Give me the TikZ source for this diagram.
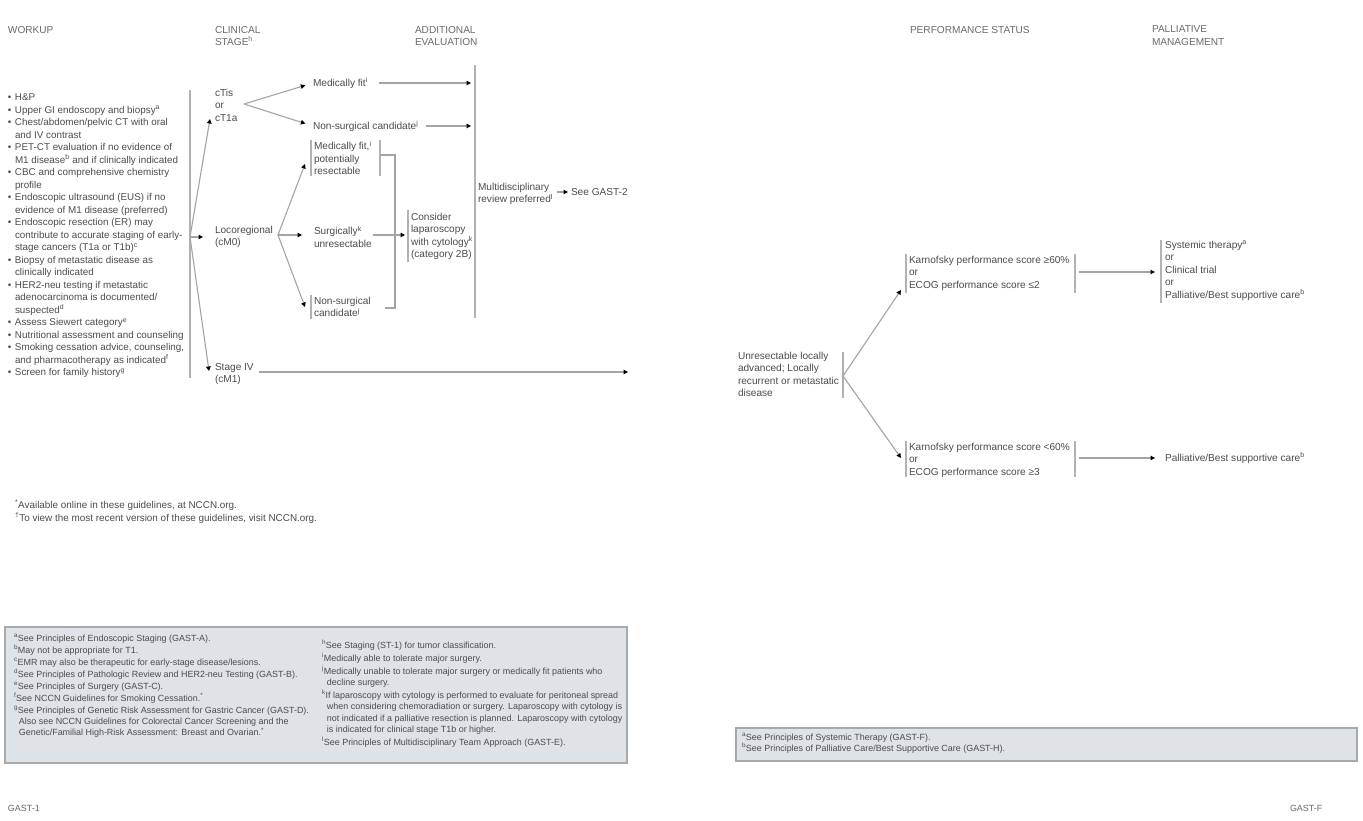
\documentclass[tikz,border=0pt]{standalone}
\usepackage{fontspec}
\setmainfont{Liberation Sans}
\usetikzlibrary{arrows.meta,calc}
\definecolor{txtc}{HTML}{4C4C4C}
\definecolor{hdrc}{HTML}{6A6A6A}
\definecolor{linec}{HTML}{A4A4A4}
\definecolor{barc}{HTML}{B2B2B2}
\definecolor{boxfill}{HTML}{DDE3E6}
\definecolor{boxline}{HTML}{A6AAAD}
\newcommand{\mainf}{\fontsize{10.1}{12.5}\selectfont}
\newcommand{\workf}{\fontsize{9.85}{12.5}\selectfont}
\newcommand{\notef}{\fontsize{8.95}{11.4}\selectfont}
\newcommand{\bult}{\makebox[7pt][l]{•}}
\newcommand{\indt}{\hspace*{7pt}}
\newcommand{\sps}[1]{\textsuperscript{#1}}
\begin{document}
\begin{tikzpicture}[x=1pt,y=-1pt,
  lbl/.style={font=\mainf, text=txtc, inner sep=0pt, outer sep=0pt, align=left},
  hdr/.style={lbl, text=hdrc},
  note/.style={lbl, font=\notef},
  gl/.style={draw=linec, line width=1.1pt},
  bar/.style={draw=barc, line width=1.6pt},
  arr/.style={gl, -{Triangle[length=4.5pt,width=4.5pt,color=black]}},
  fbox/.style={fill=boxfill, draw=boxline, line width=2pt}]
\useasboundingbox[fill=white] (0,0) rectangle (1363,821);

% ---------- headers ----------
\node[hdr, anchor=west] (hW) at (8,30) {WORKUP};
\node[hdr, anchor=north west] (hC) at (215,26) {CLINICAL\\STAGE\sps{h}};
\node[hdr, anchor=north west] (hA) at (415,26) {ADDITIONAL\\EVALUATION};
\node[hdr, anchor=west] (hP) at (910,30) {PERFORMANCE STATUS};
\node[hdr, anchor=north west] (hM) at (1152,26) {PALLIATIVE\\MANAGEMENT};

% ---------- workup ----------
\node[lbl, font=\workf, anchor=north west] (work) at (8,94) {%
\bult H\&P\\
\bult Upper GI endoscopy and biopsy\sps{a}\\
\bult Chest/abdomen/pelvic CT with oral\\
\indt and IV contrast\\
\bult PET-CT evaluation if no evidence of\\
\indt M1 disease\sps{b} and if clinically indicated\\
\bult CBC and comprehensive chemistry\\
\indt profile\\
\bult Endoscopic ultrasound (EUS) if no\\
\indt evidence of M1 disease (preferred)\\
\bult Endoscopic resection (ER) may\\
\indt contribute to accurate staging of early-\\
\indt stage cancers (T1a or T1b)\sps{c}\\
\bult Biopsy of metastatic disease as\\
\indt clinically indicated\\
\bult HER2-neu testing if metastatic\\
\indt adenocarcinoma is documented/\\
\indt suspected\sps{d}\\
\bult Assess Siewert category\sps{e}\\
\bult Nutritional assessment and counseling\\
\bult Smoking cessation advice, counseling,\\
\indt and pharmacotherapy as indicated\sps{f}\\
\bult Screen for family history\sps{g}};

\coordinate (wt) at (190,90);
\coordinate (wb) at (190,378);
\draw[bar] (wt) -- (wb);
\coordinate (o1) at (190,237);

% ---------- clinical stage ----------
\node[lbl, anchor=north west] (cT) at (215,89) {cTis\\or\\cT1a};
\node[lbl, anchor=north west] (loc) at (215,226) {Locoregional\\(cM0)};
\node[lbl, anchor=north west] (s4) at (215,363) {Stage IV\\(cM1)};
\coordinate (cTin) at (210,119);
\coordinate (s4in) at (209,371);
\draw[arr] (o1) -- (cTin);
\draw[arr, shorten >=12pt] (o1) -- (o1 -| loc.west);
\draw[arr] (o1) -- (s4in);

% cTis branch
\coordinate (o2) at (244,104);
\node[lbl, anchor=west] (mf1) at (313,83) {Medically fit\sps{i}};
\node[lbl, anchor=west] (ns1) at (313,126) {Non-surgical candidate\sps{j}};
\draw[arr, shorten >=8pt] (o2) -- (mf1.west);
\draw[arr, shorten >=8pt] (o2) -- (ns1.west);

% big vertical line (additional evaluation)
\coordinate (BB1) at (475,65);
\coordinate (BB2) at (475,318);
\draw[bar] (BB1) -- (BB2);
\draw[arr, shorten <=11pt, shorten >=4pt] (mf1.east) -- (mf1.east -| BB1);
\draw[arr, shorten <=8pt, shorten >=4pt] (ns1.east) -- (ns1.east -| BB1);

% locoregional branch
\coordinate (o3) at (278,235);
\node[lbl, anchor=north west] (mfr) at (314,141) {Medically fit,\sps{i}\\potentially\\resectable};
\node[lbl, anchor=north west] (su) at (314,226) {Surgically\sps{k}\\unresectable};
\node[lbl, anchor=north west] (ns2) at (314,297) {Non-surgical\\candidate\sps{j}};
\coordinate (mfrin) at (305,164);
\coordinate (suin) at (302,235);
\coordinate (ns2in) at (305,307);
\draw[arr] (o3) -- (mfrin);
\draw[arr] (o3) -- (suin);
\draw[arr] (o3) -- (ns2in);
\draw[bar] (311,140) -- (311,176);
\draw[bar] (380,140) -- (380,176);
\draw[bar] (311,295) -- (311,319);
% bracket
\coordinate (bk1) at (380,155);
\coordinate (bk2) at (395,155);
\coordinate (bk3) at (395,308);
\coordinate (bk4) at (385,308);
\draw[gl] (bk1) -- (bk2) -- (bk3) -- (bk4);

\node[lbl, anchor=north west] (lap) at (411,213) {Consider\\laparoscopy\\with cytology\sps{k}\\(category 2B)};
\draw[bar] (408,210) -- (408,262);
\coordinate (sustart) at (373,235);
\draw[arr, shorten >=6pt] (sustart) -- (sustart -| lap.west);

\node[lbl, anchor=north west] (mdr) at (478,183) {Multidisciplinary\\review preferred\sps{l}};
\node[lbl, anchor=west] (g2) at (571,192) {See GAST-2};
\coordinate (mdrout) at (557,192);
\draw[arr, shorten >=3pt] (mdrout) -- (g2.west);

% stage IV long arrow
\coordinate (s4end) at (628,372);
\draw[arr, shorten <=5pt] (s4.east |- s4end) -- (s4end);

% ---------- footnotes (left) ----------
\node[lbl, anchor=north west, font=\fontsize{9.9}{13}\selectfont] (avail) at (15,500)
 {\sps{*}Available online in these guidelines, at NCCN.org.\\
  \sps{†}To view the most recent version of these guidelines, visit NCCN.org.};

\path[fbox] (5,627) rectangle (627,763);
\node[note, anchor=north west] (fnL) at (14,634) {%
\sps{a}See Principles of Endoscopic Staging (GAST-A).\\[0.6pt]
\sps{b}May not be appropriate for T1.\\[0.6pt]
\sps{c}EMR may also be therapeutic for early-stage disease/lesions.\\[0.6pt]
\sps{d}See Principles of Pathologic Review and HER2-neu Testing (GAST-B).\\[0.6pt]
\sps{e}See Principles of Surgery (GAST-C).\\[0.6pt]
\sps{f}See NCCN Guidelines for Smoking Cessation.\sps{*}\\[0.6pt]
\sps{g}See Principles of Genetic Risk Assessment for Gastric Cancer (GAST-D).\\
\ \ Also see NCCN Guidelines for Colorectal Cancer Screening and the\\
\ \ Genetic/Familial High-Risk Assessment: Breast and Ovarian.\sps{*}};
\node[note, anchor=north west] (fnR) at (322,640) {%
\sps{h}See Staging (ST-1) for tumor classification.\\[1.5pt]
\sps{i}Medically able to tolerate major surgery.\\[1.5pt]
\sps{j}Medically unable to tolerate major surgery or medically fit patients who\\
\ \ decline surgery.\\[1.5pt]
\sps{k}If laparoscopy with cytology is performed to evaluate for peritoneal spread\\
\ \ when considering chemoradiation or surgery. Laparoscopy with cytology is\\
\ \ not indicated if a palliative resection is planned. Laparoscopy with cytology\\
\ \ is indicated for clinical stage T1b or higher.\\[1.5pt]
\sps{l}See Principles of Multidisciplinary Team Approach (GAST-E).};

\node[note, anchor=west, text=hdrc] (pg1) at (8,808) {GAST-1};

% ---------- right page ----------
\node[lbl, anchor=north west] (unres) at (738,352) {Unresectable locally\\advanced; Locally\\recurrent or metastatic\\disease};
\draw[bar] (843,352) -- (843,398);
\coordinate (o4) at (843,376);

\node[lbl, anchor=north west] (kp1) at (909,256) {Karnofsky performance score ≥60\%\\or\\ECOG performance score ≤2};
\node[lbl, anchor=north west] (kp2) at (909,443) {Karnofsky performance score <60\%\\or\\ECOG performance score ≥3};
\draw[bar] (906,254) -- (906,293);
\draw[bar] (1075,254) -- (1075,293);
\draw[bar] (906,441) -- (906,477);
\draw[bar] (1075,441) -- (1075,477);
\coordinate (kp1in) at (901,290);
\coordinate (kp2in) at (901,458);
\draw[arr] (o4) -- (kp1in);
\draw[arr] (o4) -- (kp2in);

\node[lbl, anchor=north west] (sys) at (1165,241) {Systemic therapy\sps{a}\\or\\Clinical trial\\or\\Palliative/Best supportive care\sps{b}};
\draw[bar] (1161,240) -- (1161,303);
\node[lbl, anchor=west] (pal) at (1165,458) {Palliative/Best supportive care\sps{b}};
\coordinate (k1out) at (1079,272);
\coordinate (k2out) at (1079,458);
\draw[arr, shorten >=10pt] (k1out) -- (k1out -| sys.west);
\draw[arr, shorten >=10pt] (k2out) -- (pal.west);

\path[fbox] (736,728) rectangle (1357,761);
\node[note, anchor=north west] (fnR2) at (742,733) {%
\sps{a}See Principles of Systemic Therapy (GAST-F).\\
\sps{b}See Principles of Palliative Care/Best Supportive Care (GAST-H).};

\node[note, anchor=west, text=hdrc] (pg2) at (1290,808) {GAST-F};
\end{tikzpicture}
\end{document}
